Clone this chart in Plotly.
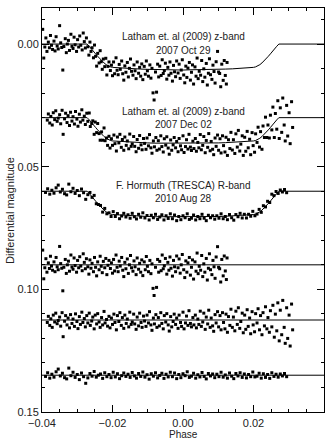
import plotly.graph_objects as go

# ---------------- data (phase in units of 1e-4, magnitude in units of 1e-4 mag) ----------------
# Latham et al. (2009) z-band, 2007 Oct 29
phase_a = [
    -398, -395, -392, -389, -386, -382, -379, -376, -373, -370,
    -366, -363, -360, -357, -354, -350, -347, -344, -341, -338,
    -334, -331, -328, -325, -322, -318, -315, -312, -309, -306,
    -302, -299, -296, -293, -290, -286, -283, -280, -277, -274,
    -270, -267, -264, -261, -258, -254, -251, -248, -245, -242,
    -238, -235, -232, -229, -226, -222, -219, -216, -213, -210,
    -206, -203, -200, -197, -194, -190, -187, -184, -181, -178,
    -174, -171, -168, -165, -162, -158, -155, -152, -149, -146,
    -142, -139, -136, -133, -130, -126, -123, -120, -117, -114,
    -110, -107, -104, -101, -98, -94, -91, -88, -85, -82,
    -78, -75, -72, -69, -66, -62, -59, -56, -53, -50,
    -46, -43, -40, -37, -34, -30, -27, -24, -21, -18,
    -14, -11, -8, -5, -2, 2, 5, 8, 11, 14,
    18, 21, 24, 27, 30, 34, 37, 40, 43, 46,
    50, 53, 56, 59, 62, 66, 69, 72, 75, 78,
    82, 85, 88, 91, 94, 98, 101, 104, 107, 110,
    114, 117, 120, 123, 125,
]
mag_a = [
    -60, 57, 12, -25, 30, -8, 15, -35, 5, 22,
    -12, 28, -30, 8, 20, -75, -5, 14, 106, 10,
    -22, 35, 0, -15, 26, -40, 9, 18, -28, 3,
    30, -18, 12, -33, 5, 24, -45, -10, 16, -25,
    11, 45, -8, 30, 15, 56, 4, 50, 90, 38,
    77, 27, 72, 103, 61, 92, 58, 126, 91, 73,
    108, 86, 129, 73, 121, 56, 107, 125, 83, 103,
    69, 121, 147, 89, 115, 75, 134, 99, 61, 111,
    127, 85, 109, 141, 73, 119, 95, 131, 81, 145,
    91, 123, 69, 109, 131, 85, 139, 99, 199, 228,
    114, 196, 82, 134, 90, 128, 64, 120, 108, 78,
    143, 95, 127, 73, 119, 151, 87, 113, 133, 69,
    118, 82, 140, 106, 64, 126, 158, 90, 136, 98,
    75, 147, 115, 85, 163, 93, 131, 57, 141, 111,
    127, 67, 153, 101, 135, 79, 167, 119, 60, 125,
    144, 86, 112, 159, 72, 30, 114, 120, 174, 82,
    148, 67, 128, 163, 75,
]
res_a = [
    -60, 57, 12, -25, 30, -8, 15, -35, 5, 22,
    -12, 28, -30, 8, 20, -75, -5, 14, 106, 10,
    -22, 35, 0, -15, 26, -40, 9, 18, -28, 3,
    30, -18, 12, -33, 5, 24, -45, -10, 16, -25,
    8, 38, -20, 14, -6, 28, -30, 10, 45, -12,
    20, -35, 6, 32, -14, 12, -26, 40, 2, -18,
    15, -8, 34, -22, 25, -40, 10, 28, -15, 5,
    -30, 22, 48, -10, 16, -24, 35, 0, -38, 12,
    26, -16, 8, 40, -28, 18, -6, 30, -20, 44,
    -12, 20, -34, 6, 28, -18, 36, -4, 96, 125,
    10, 92, -22, 30, -14, 24, -40, 16, 4, -26,
    38, -10, 22, -32, 14, 46, -18, 8, 28, -36,
    12, -24, 34, 0, -42, 20, 52, -16, 30, -8,
    -30, 42, 10, -20, 58, -12, 26, -48, 36, 6,
    22, -38, 48, -4, 30, -26, 62, 14, -45, 20,
    40, -18, 8, 55, -32, -74, 10, 16, 70, -22,
    45, -36, 25, 60, -28,
]

# Latham et al. (2009) z-band, 2007 Dec 02
phase_b = [
    -385, -382, -378, -375, -371, -368, -364, -361, -357, -354,
    -350, -347, -343, -340, -336, -333, -329, -326, -322, -319,
    -315, -312, -308, -305, -301, -298, -294, -291, -287, -284,
    -280, -277, -273, -270, -266, -263, -259, -256, -252, -249,
    -245, -242, -238, -235, -231, -228, -224, -221, -217, -214,
    -210, -207, -203, -200, -196, -193, -189, -186, -182, -179,
    -175, -172, -168, -165, -161, -158, -154, -151, -147, -144,
    -140, -137, -133, -130, -126, -123, -119, -116, -112, -109,
    -105, -102, -98, -95, -91, -88, -84, -81, -77, -74,
    -70, -67, -63, -60, -56, -53, -49, -46, -42, -39,
    -35, -32, -28, -25, -21, -18, -14, -11, -7, -4,
    0, 3, 7, 10, 14, 17, 21, 24, 28, 31,
    35, 38, 42, 45, 49, 52, 56, 59, 63, 66,
    70, 73, 77, 80, 84, 87, 91, 94, 98, 101,
    105, 108, 112, 115, 119, 122, 126, 129, 133, 136,
    140, 143, 147, 150, 154, 157, 161, 164, 168, 171,
    175, 178, 182, 185, 189, 192, 196, 199, 203, 206,
    210, 213, 217, 220, 224, 227, 231, 234, 238, 241,
    245, 248, 252, 255, 259, 262, 266, 269, 273, 276,
    280, 283, 287, 290, 294, 297, 301, 304, 308, 311,
]
mag_b = [
    10, -15, 22, -5, 30, -20, 8, -28, 15, 2,
    -12, 25, -30, 68, 5, -18, 20, -8, 32, -22,
    14, -4, 26, -25, 6, 35, -14, 18, -32, 10,
    -6, 28, -18, 15, -19, 36, 24, 13, 68, 18,
    61, 24, 65, 92, 58, 92, 42, 94, 83, 113,
    76, 124, 86, 113, 71, 106, 136, 79, 103, 68,
    121, 89, 133, 79, 113, 95, 127, 67, 117, 107,
    77, 117, 139, 89, 125, 73, 111, 131, 85, 105,
    129, 83, 115, 69, 123, 145, 95, 119, 81, 133,
    94, 128, 74, 118, 140, 86, 112, 78, 124, 149,
    91, 133, 111, 81, 123, 97, 139, 85, 115, 131,
    74, 142, 118, 90, 128, 68, 120, 134, 96, 126,
    85, 137, 101, 123, 69, 131, 113, 77, 143, 93,
    121, 65, 135, 97, 129, 151, 83, 117, 71, 133,
    86, 144, 74, 114, 140, 80, 154, 90, 126, 60,
    132, 90, 146, 66, 120, 52, 136, 108, 74, 154,
    80, 137, 56, 123, 88, 151, 61, 114, 141, 66,
    101, 39, 120, 57, 129, 34, 81, -2, 81, 30,
    83, -10, 50, -43, 81, -17, 47, -69, 85, -40,
    60, -80, 30, 95, -50, 75, -20, 106, -65, 40,
]
res_b = [
    10, -15, 22, -5, 30, -20, 8, -28, 15, 2,
    -12, 25, -30, 68, 5, -18, 20, -8, 32, -22,
    14, -4, 26, -25, 6, 35, -14, 18, -32, 10,
    -6, 28, -18, 12, -28, 22, 4, -12, 36, -20,
    16, -26, 8, 30, -10, 20, -35, 12, -2, 25,
    -15, 32, -8, 18, -24, 10, 40, -18, 6, -30,
    22, -10, 34, -20, 14, -4, 28, -32, 18, 8,
    -24, 16, 38, -12, 24, -28, 10, 30, -16, 4,
    26, -20, 12, -34, 20, 42, -8, 16, -22, 30,
    -10, 24, -30, 14, 36, -18, 8, -26, 20, 45,
    -14, 28, 6, -24, 18, -8, 34, -20, 10, 26,
    -32, 36, 12, -16, 22, -38, 14, 28, -10, 20,
    -20, 32, -4, 18, -36, 26, 8, -28, 38, -12,
    16, -40, 30, -8, 24, 46, -22, 12, -34, 28,
    -18, 40, -30, 10, 36, -24, 50, -14, 22, -44,
    30, -12, 44, -36, 18, -50, 34, 6, -28, 52,
    -20, 38, -42, 26, -8, 56, -34, 20, 48, -26,
    12, -46, 40, -18, 60, -30, 24, -54, 36, -10,
    50, -38, 28, -60, 70, -24, 44, -70, 85, -40,
    60, -80, 30, 95, -50, 75, -20, 106, -65, 40,
]

# F. Hormuth (TRESCA) R-band, 2010 Aug 28
phase_c = [
    -390, -384, -378, -372, -366, -360, -354, -348, -342, -336,
    -330, -324, -318, -312, -306, -300, -294, -288, -282, -276,
    -270, -264, -258, -252, -246, -240, -234, -228, -222, -216,
    -210, -204, -198, -192, -186, -180, -174, -168, -162, -156,
    -150, -144, -138, -132, -126, -120, -114, -108, -102, -96,
    -90, -84, -78, -72, -66, -60, -54, -48, -42, -36,
    -30, -24, -18, -12, -6, 0, 6, 12, 18, 24,
    30, 36, 42, 48, 54, 60, 66, 72, 78, 84,
    90, 96, 102, 108, 114, 120, 126, 132, 138, 144,
    150, 156, 162, 168, 174, 180, 186, 192, 198, 204,
    210, 216, 222, 228, 234, 240, 246, 252, 258, 264,
    270, 276, 282, 288, 294,
]
mag_c = [
    5, -10, 12, -4, 8, -14, -25, 3, -8, 10,
    15, -29, 2, -12, 9, -3, 18, -9, 6, 33,
    14, 5, 25, 17, 51, 54, 58, 85, 70, 92,
    88, 103, 83, 103, 91, 112, 101, 90, 105, 96,
    110, 90, 104, 113, 94, 106, 88, 109, 99, 117,
    98, 108, 94, 115, 105, 96, 117, 100, 111, 92,
    112, 97, 120, 103, 116, 100, 108, 92, 115, 110,
    97, 117, 103, 112, 94, 110, 120, 98, 108, 100,
    114, 100, 110, 92, 112, 103, 116, 95, 108, 118,
    95, 104, 90, 109, 94, 109, 94, 102, 82, 100,
    93, 74, 86, 59, 64, 41, 46, 12, 18, 1,
    9, -5, 3, -7, 6,
]
res_c = [
    5, -10, 12, -4, 8, -14, -25, 3, -8, 10,
    15, -29, 2, -12, 9, -3, 18, -9, 6, 33,
    11, -7, 4, -15, 8, 0, -5, 13, -10, 6,
    -3, 10, -12, 7, -6, 14, 2, -9, 5, -4,
    9, -11, 3, 12, -7, 5, -13, 8, -2, 16,
    -6, 4, -10, 11, 1, -8, 13, -4, 7, -12,
    6, -9, 14, -3, 10, -6, 2, -14, 9, 4,
    -8, 12, -2, 7, -11, 5, 15, -7, 3, -5,
    10, -4, 6, -12, 8, -1, 12, -9, 4, 14,
    -7, 3, -10, 9, -5, 11, -3, 6, -13, 7,
    4, -8, 12, -6, 9, -3, 13, -10, 5, -4,
    8, -5, 3, -7, 6,
]

# transit model curve
model_phase = [-400, -272, -266, -260, -254, -248, -242, -236, -230, -224, -218, -212,
               -206, -200, -190, -180, -160, -140, -120, -100, -80, -60, -40, -20, 0,
               20, 40, 60, 80, 100, 120, 140, 160, 180, 190, 200, 206, 212, 218, 224,
               230, 236, 242, 248, 254, 260, 266, 272, 400]
model_mag = [0, 0, 9, 18, 28, 40, 50, 60, 69, 77, 84, 89,
             93, 95, 96, 98, 100, 101, 102, 103, 104, 104, 105, 105, 106,
             105, 105, 104, 104, 103, 102, 101, 100, 98, 96, 95, 93, 89, 84, 77,
             69, 60, 50, 40, 28, 18, 9, 0, 0]
flat_phase = [-400, 400]
flat_mag = [0, 0]

labels = [
    ("Latham et. al (2009) z-band", "2007 Oct 29"),
    ("Latham et. al (2009) z-band", "2007 Dec 02"),
    ("F. Hormuth (TRESCA) R-band", "2010 Aug 28"),
]

# ---------------- layout constants ----------------
UNIT = 1e-4
offsets_lc = [0, 300, 600]          # vertical shifts of light curves (1e-4 mag)
offsets_res = [900, 1125, 1350]     # vertical shifts of residuals (1e-4 mag)
label_y = [(-0.0030, 0.0025), (0.0276, 0.0327), (0.0576, 0.0629)]
XRANGE = [-0.04, 0.04]
YRANGE = [0.15, -0.0147]

for p, m, r in [(phase_a, mag_a, res_a), (phase_b, mag_b, res_b), (phase_c, mag_c, res_c)]:
    assert len(p) == len(m) == len(r), (len(p), len(m), len(r))

fig = go.Figure()

def sc(x):
    return [v * UNIT for v in x]

def shift(y, off):
    return [(v + off) * UNIT for v in y]

line_style = dict(color="black", width=1)
marker_style = dict(color="black", size=3, symbol="square")

# model lines
for off in offsets_lc:
    fig.add_trace(go.Scatter(x=sc(model_phase), y=shift(model_mag, off), mode="lines",
                             line=line_style, hoverinfo="skip"))
for off in offsets_res:
    fig.add_trace(go.Scatter(x=sc(flat_phase), y=shift(flat_mag, off), mode="lines",
                             line=line_style, hoverinfo="skip"))

# points
for (p, m), off in zip([(phase_a, mag_a), (phase_b, mag_b), (phase_c, mag_c)], offsets_lc):
    fig.add_trace(go.Scatter(x=sc(p), y=shift(m, off), mode="markers", marker=marker_style))
for (p, r), off in zip([(phase_a, res_a), (phase_b, res_b), (phase_c, res_c)], offsets_res):
    fig.add_trace(go.Scatter(x=sc(p), y=shift(r, off), mode="markers", marker=marker_style))

# empty trace to activate the mirrored (top/right) tick axes
fig.add_trace(go.Scatter(x=[], y=[], xaxis="x2", yaxis="y2", mode="markers",
                         hoverinfo="skip"))

FONT = "Liberation Sans, Arial, sans-serif"
ann = []
for (l1, l2), (y1, y2) in zip(labels, label_y):
    ann.append(dict(x=0.0, y=y1, xref="x", yref="y", text=l1, showarrow=False,
                    font=dict(family=FONT, size=10, color="#222")))
    ann.append(dict(x=0.0, y=y2, xref="x", yref="y", text=l2, showarrow=False,
                    font=dict(family=FONT, size=10, color="#222")))
ann.append(dict(x=-0.1135, y=0.5, xref="paper", yref="paper", text="Differential magnitude",
                textangle=-90, showarrow=False, xanchor="center", yanchor="middle",
                font=dict(family=FONT, size=11, color="#222")))
ann.append(dict(x=0.5035, y=-0.0565, xref="paper", yref="paper", text="Phase",
                showarrow=False, xanchor="center", yanchor="middle",
                font=dict(family=FONT, size=10, color="#222")))

axis_common = dict(showline=True, linecolor="black", linewidth=1,
                   ticks="inside", ticklen=7, tickcolor="black", tickwidth=1,
                   showgrid=False, zeroline=False, tickformat=".2f",
                   tickfont=dict(family=FONT, size=11, color="#222"))
xminor = dict(dtick=0.005, tick0=0, ticks="inside", ticklen=3, tickcolor="black", showgrid=False)
yminor = dict(dtick=0.01, tick0=0, ticks="inside", ticklen=3, tickcolor="black", showgrid=False)
xticks = [-0.04, -0.02, 0.0, 0.02, 0.04]

fig.update_layout(
    width=331, height=441,
    margin=dict(l=42, r=7, t=8, b=29),
    paper_bgcolor="white", plot_bgcolor="white",
    showlegend=False,
    annotations=ann,
    xaxis=dict(range=XRANGE, tickvals=xticks, minor=xminor, ticklabelstandoff=1, **axis_common),
    yaxis=dict(range=YRANGE, tick0=0, dtick=0.05, minor=yminor, **axis_common),
    xaxis2=dict(range=XRANGE, tickvals=xticks, minor=xminor, overlaying="x", side="top",
                anchor="y2", showticklabels=False, **axis_common),
    yaxis2=dict(range=YRANGE, tick0=0, dtick=0.05, minor=yminor, overlaying="y", side="right",
                anchor="x2", showticklabels=False, **axis_common),
)

fig.write_html("out.html")
